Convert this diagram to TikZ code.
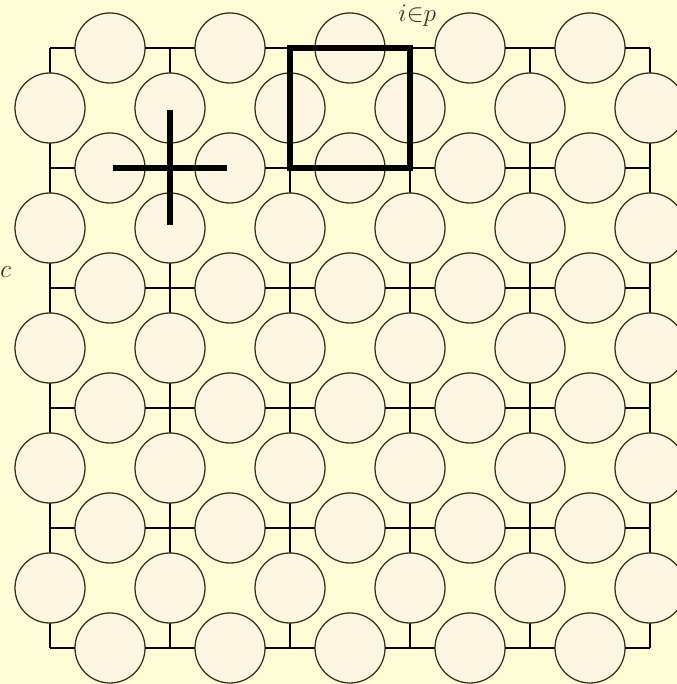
\documentclass[tikz,border=0pt]{standalone}
\usepackage{amsmath}
\definecolor{fundo}{RGB}{255,252,214}
\definecolor{bolha}{RGB}{253,247,226}
\definecolor{borda}{RGB}{62,42,30}
\tikzset{
  qubit/.style={circle, draw=borda, fill=bolha, line width=0.6pt,
    minimum size=1.167cm, inner sep=0pt},
  rede/.style={line width=0.7pt},
  operador/.style={line width=3pt},
}
\begin{document}
\begin{tikzpicture}[x=2cm, y=2cm]
  % fundo
  \fill[fundo] (-0.4167,-0.3) rectangle (5.225,5.4);
  \useasboundingbox (-0.4167,-0.3) rectangle (5.225,5.4);
  % vertices
  \foreach \i in {0,...,5}
    \foreach \j in {0,...,5}
      \coordinate (v-\i-\j) at (\i,\j);
  % rede
  \foreach \k in {0,...,5} {
    \draw[rede] (v-0-\k) -- (v-5-\k);
    \draw[rede] (v-\k-0) -- (v-\k-5);
  }
  % qubits nas arestas
  \foreach \i in {0,...,4}
    \foreach \j in {0,...,5} {
      \node[qubit] (h-\i-\j) at (\i+0.5,\j) {};
      \node[qubit] (u-\j-\i) at (\j,\i+0.5) {};
    }
  % estrela
  \draw[operador] ([xshift=-0.95cm]v-1-4) -- ([xshift=0.95cm]v-1-4);
  \draw[operador] ([yshift=0.97cm]v-1-4) -- ([yshift=-0.95cm]v-1-4);
  % plaqueta
  \draw[operador] (v-2-5) rectangle (v-3-4);
  % rotulos
  \node[font=\large, text=black!80, inner sep=1pt] (ip) at (3.06,5.27) {$i{\in}p$};
  \node[font=\large, text=borda, inner sep=1pt] (c) at (-0.37,3.13) {$c$};
\end{tikzpicture}
\end{document}
